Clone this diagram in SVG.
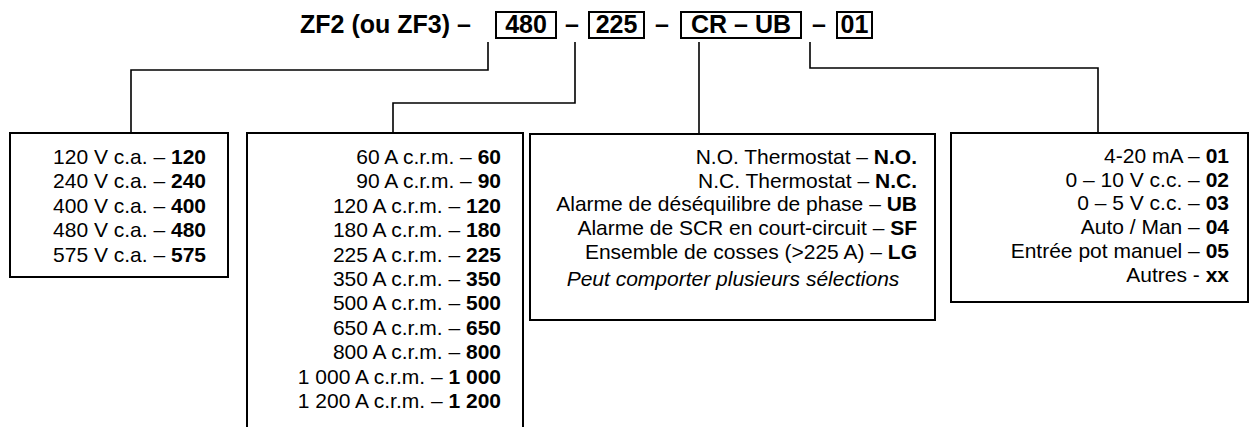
<svg xmlns="http://www.w3.org/2000/svg" width="1251" height="427" viewBox="0 0 1251 427">
<style>
text{font-family:"Liberation Sans",Arial,sans-serif;fill:#000}
.t{font-size:25px;font-weight:bold}
.b{font-size:21px;text-anchor:end}
.c{font-size:21px;text-anchor:middle;font-style:italic}
.k{font-weight:bold}
.box{fill:#fff;stroke:#000;stroke-width:2}
.con{fill:none;stroke:#000;stroke-width:1.6}
</style>
<rect width="1251" height="427" fill="#fff"/>
<g id="title">
<text class="t" x="300" y="33">ZF2 (ou ZF3) –</text>
<rect class="box" x="496" y="12" width="60" height="26"/>
<text class="t" x="526" y="33" text-anchor="middle">480</text>
<text class="t" x="572" y="33" text-anchor="middle">–</text>
<rect class="box" x="589" y="12" width="55" height="26"/>
<text class="t" x="616.5" y="33" text-anchor="middle">225</text>
<text class="t" x="662" y="33" text-anchor="middle">–</text>
<rect class="box" x="681" y="12" width="120" height="26"/>
<text class="t" x="741" y="33" text-anchor="middle">CR – UB</text>
<text class="t" x="819" y="33" text-anchor="middle">–</text>
<rect class="box" x="837" y="12" width="35" height="26"/>
<text class="t" x="854.5" y="33" text-anchor="middle">01</text>
</g>
<g id="connectors">
<path class="con" d="M488,42 V70 H131 V133"/>
<path class="con" d="M575,42 V103 H393 V133"/>
<path class="con" d="M699,42 V134"/>
<path class="con" d="M810,42 V68 H1098 V133"/>
</g>
<g id="voltage">
<rect class="box" x="10" y="133" width="218" height="144"/>
<text class="b" x="206" y="164">120 V c.a. – <tspan class="k">120</tspan></text>
<text class="b" x="206" y="188.4">240 V c.a. – <tspan class="k">240</tspan></text>
<text class="b" x="206" y="212.8">400 V c.a. – <tspan class="k">400</tspan></text>
<text class="b" x="206" y="237.2">480 V c.a. – <tspan class="k">480</tspan></text>
<text class="b" x="206" y="261.6">575 V c.a. – <tspan class="k">575</tspan></text>
</g>
<g id="current">
<rect class="box" x="247" y="133" width="276" height="320"/>
<text class="b" x="501" y="164">60 A c.r.m. – <tspan class="k">60</tspan></text>
<text class="b" x="501" y="188.4">90 A c.r.m. – <tspan class="k">90</tspan></text>
<text class="b" x="501" y="212.8">120 A c.r.m. – <tspan class="k">120</tspan></text>
<text class="b" x="501" y="237.2">180 A c.r.m. – <tspan class="k">180</tspan></text>
<text class="b" x="501" y="261.6">225 A c.r.m. – <tspan class="k">225</tspan></text>
<text class="b" x="501" y="286">350 A c.r.m. – <tspan class="k">350</tspan></text>
<text class="b" x="501" y="310.4">500 A c.r.m. – <tspan class="k">500</tspan></text>
<text class="b" x="501" y="334.8">650 A c.r.m. – <tspan class="k">650</tspan></text>
<text class="b" x="501" y="359.2">800 A c.r.m. – <tspan class="k">800</tspan></text>
<text class="b" x="501" y="383.6">1 000 A c.r.m. – <tspan class="k">1 000</tspan></text>
<text class="b" x="501" y="408">1 200 A c.r.m. – <tspan class="k">1 200</tspan></text>
</g>
<g id="options">
<rect class="box" x="530" y="134" width="405" height="186"/>
<text class="b" x="917" y="164">N.O. Thermostat – <tspan class="k">N.O.</tspan></text>
<text class="b" x="917" y="187.7">N.C. Thermostat – <tspan class="k">N.C.</tspan></text>
<text class="b" x="917" y="211.4">Alarme de déséquilibre de phase – <tspan class="k">UB</tspan></text>
<text class="b" x="917" y="235.1">Alarme de SCR en court-circuit – <tspan class="k">SF</tspan></text>
<text class="b" x="917" y="258.8">Ensemble de cosses (&gt;225 A) – <tspan class="k">LG</tspan></text>
<text class="c" x="733" y="286">Peut comporter plusieurs sélections</text>
</g>
<g id="control">
<rect class="box" x="951" y="133" width="297" height="169"/>
<text class="b" x="1229" y="163">4-20 mA – <tspan class="k">01</tspan></text>
<text class="b" x="1229" y="186.7">0 – 10 V c.c. – <tspan class="k">02</tspan></text>
<text class="b" x="1229" y="210.4">0 – 5 V c.c. – <tspan class="k">03</tspan></text>
<text class="b" x="1229" y="234.1">Auto / Man – <tspan class="k">04</tspan></text>
<text class="b" x="1229" y="257.8">Entrée pot manuel – <tspan class="k">05</tspan></text>
<text class="b" x="1229" y="281.5">Autres - <tspan class="k">xx</tspan></text>
</g>
</svg>
